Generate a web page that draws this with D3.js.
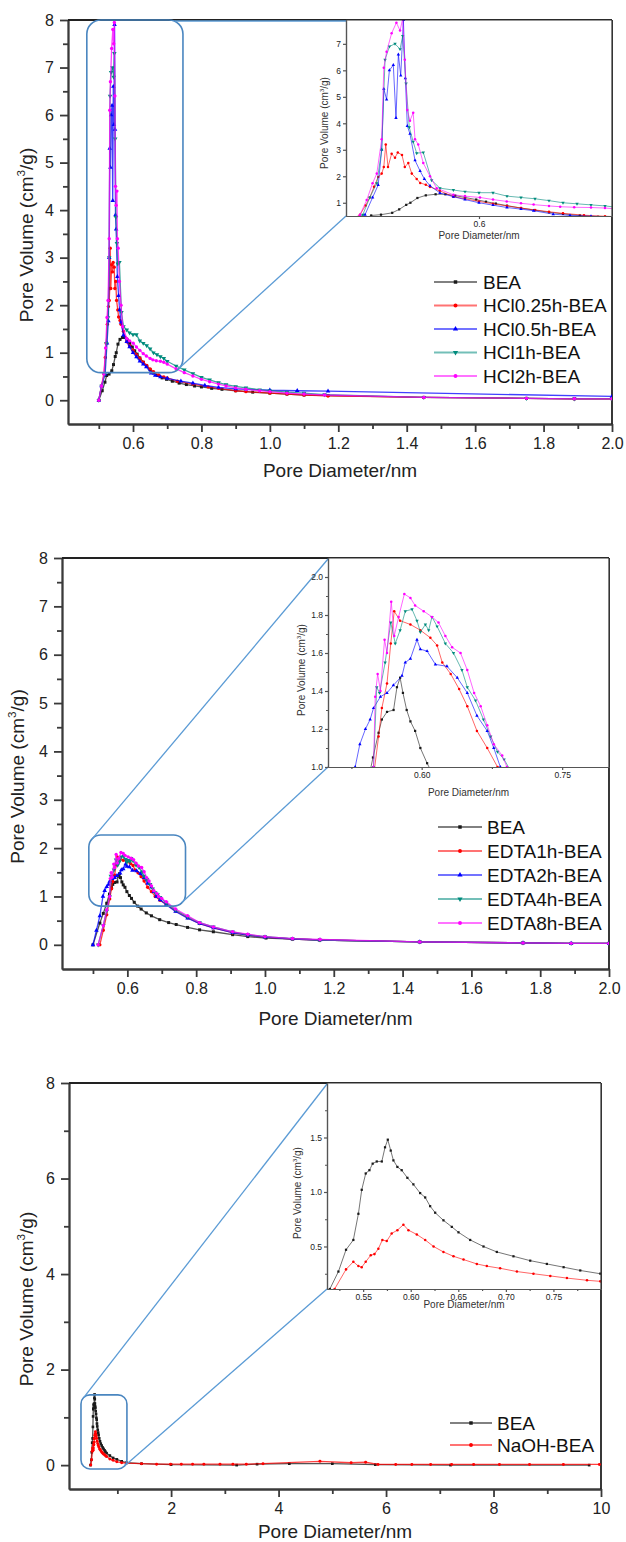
<!DOCTYPE html>
<html>
<head>
<meta charset="utf-8">
<script src="https://cdn.jsdelivr.net/npm/d3@7"></script>
<style>
body { margin: 0; background: #fff; }
</style>
</head>
<body>
<div id="chart"></div>
<script>

// ---------- data: HCl treated samples (x = pore diameter nm, y = pore volume) ----------
var hclNames = ['BEA', 'HCl0.25h-BEA', 'HCl0.5h-BEA', 'HCl1h-BEA', 'HCl2h-BEA'];

var hclBEA = [[0.500,0.00],[0.510,0.20],[0.518,0.38],[0.523,0.52],[0.530,0.55],[0.538,0.62],[0.543,0.75],
    [0.548,0.92],[0.551,1.00],[0.556,1.18],[0.562,1.28],[0.569,1.32],[0.576,1.32],[0.583,1.27],[0.590,1.20],
    [0.598,1.12],[0.605,1.04],[0.612,0.97],[0.620,0.89],[0.630,0.80],[0.640,0.72],[0.650,0.64],[0.660,0.58],
    [0.672,0.52],[0.685,0.47],[0.698,0.44],[0.715,0.40],[0.735,0.36],[0.756,0.33],[0.780,0.30],[0.800,0.28],
    [0.830,0.25],[0.860,0.23],[0.900,0.20],[0.950,0.17],[1.000,0.15],[1.050,0.13],[1.100,0.11],[1.170,0.10],
    [1.450,0.06],[1.750,0.04],[1.890,0.03],[2.000,0.03]];

var hcl025 = [[0.500,0.00],[0.508,0.30],[0.515,0.55],[0.519,0.90],[0.522,1.20],[0.525,1.60],[0.528,1.97],
    [0.5305,2.10],[0.532,2.35],[0.5334,3.20],[0.535,2.35],[0.5376,2.85],[0.540,2.70],[0.542,2.90],[0.545,2.80],
    [0.547,2.35],[0.5495,2.50],[0.552,2.10],[0.5555,1.90],[0.558,1.75],[0.562,1.68],[0.565,1.60],[0.572,1.45],
    [0.5817,1.23],[0.590,1.15],[0.600,1.05],[0.610,0.96],[0.620,0.88],[0.630,0.80],[0.640,0.73],[0.650,0.66],
    [0.660,0.60],[0.675,0.53],[0.690,0.49],[0.700,0.47],[0.730,0.40],[0.775,0.34],[0.820,0.28],[0.850,0.25],
    [0.900,0.20],[0.930,0.18],[1.000,0.15],[1.050,0.13],[1.100,0.11],[1.170,0.09],[1.450,0.06],[1.750,0.04],
    [1.890,0.03],[2.000,0.03]];

var hcl05 = [[0.500,0.00],[0.508,0.30],[0.5186,0.55],[0.524,1.20],[0.528,1.67],[0.5305,3.00],[0.532,5.30],
    [0.534,4.90],[0.536,6.00],[0.5388,6.20],[0.5407,4.20],[0.5424,6.60],[0.5441,5.80],[0.546,7.90],[0.5474,5.70],
    [0.5488,3.90],[0.5507,3.60],[0.5543,2.60],[0.5579,2.20],[0.561,1.90],[0.565,1.64],[0.5721,1.37],[0.5817,1.23],
    [0.590,1.12],[0.600,1.00],[0.610,0.91],[0.620,0.82],[0.630,0.76],[0.639,0.70],[0.653,0.57],[0.665,0.52],
    [0.680,0.49],[0.700,0.46],[0.740,0.40],[0.775,0.36],[0.810,0.31],[0.850,0.27],[0.900,0.24],[0.930,0.23],
    [1.000,0.21],[1.080,0.20],[1.170,0.19],[2.000,0.08]];

var hcl1 = [[0.500,0.00],[0.508,0.30],[0.517,0.55],[0.522,1.20],[0.527,1.74],[0.5305,3.00],[0.5329,6.40],
    [0.536,6.90],[0.540,7.00],[0.5436,6.80],[0.5455,7.30],[0.5479,5.50],[0.5502,3.85],[0.553,3.30],[0.5555,2.87],
    [0.5602,2.90],[0.5662,1.85],[0.5721,1.55],[0.5817,1.48],[0.590,1.42],[0.600,1.38],[0.610,1.38],[0.620,1.25],
    [0.630,1.20],[0.640,1.15],[0.650,1.08],[0.660,1.00],[0.670,0.96],[0.680,0.92],[0.690,0.88],[0.700,0.82],
    [0.726,0.72],[0.750,0.64],[0.775,0.56],[0.800,0.48],[0.824,0.43],[0.850,0.37],[0.872,0.33],[0.900,0.29],
    [0.930,0.26],[0.970,0.22],[1.000,0.20],[1.050,0.17],[1.100,0.15],[1.160,0.12],[1.450,0.06],[1.750,0.04],
    [1.890,0.03],[2.000,0.03]];

var hcl2 = [[0.500,0.00],[0.508,0.30],[0.515,0.55],[0.5198,1.10],[0.524,1.74],[0.527,2.10],[0.5305,3.40],
    [0.532,6.10],[0.534,6.70],[0.5376,7.40],[0.541,7.80],[0.5436,7.50],[0.5455,7.95],[0.547,6.40],[0.5488,4.50],
    [0.5507,4.10],[0.553,4.40],[0.5543,3.40],[0.5566,3.20],[0.5602,2.50],[0.565,2.00],[0.5698,1.55],[0.5817,1.30],
    [0.590,1.25],[0.6007,1.20],[0.610,1.12],[0.6198,1.05],[0.630,0.98],[0.639,0.93],[0.650,0.88],[0.658,0.85],
    [0.668,0.83],[0.680,0.82],[0.690,0.80],[0.700,0.76],[0.726,0.66],[0.750,0.58],[0.775,0.51],[0.800,0.44],
    [0.824,0.39],[0.850,0.34],[0.872,0.30],[0.900,0.26],[0.930,0.23],[0.970,0.20],[1.000,0.18],[1.050,0.15],
    [1.100,0.13],[1.160,0.11],[1.450,0.06],[1.750,0.04],[1.890,0.03],[2.000,0.03]];

// ---------- data: EDTA treated samples ----------
var edtaNames = ['BEA', 'EDTA1h-BEA', 'EDTA2h-BEA', 'EDTA4h-BEA', 'EDTA8h-BEA'];

var edtaBEA = [[0.500,0.00],[0.520,0.45],[0.530,0.65],[0.540,0.86],[0.548,1.05],[0.554,1.18],[0.5575,1.25],
    [0.563,1.29],[0.570,1.30],[0.5736,1.42],[0.577,1.47],[0.580,1.39],[0.584,1.30],[0.588,1.24],[0.593,1.19],
    [0.5986,1.10],[0.6058,1.02],[0.612,0.96],[0.620,0.88],[0.630,0.80],[0.640,0.74],[0.655,0.66],[0.670,0.60],
    [0.694,0.52],[0.720,0.46],[0.742,0.42],[0.775,0.36],[0.810,0.31],[0.850,0.27],[0.906,0.21],[0.950,0.17],
    [1.003,0.14],[1.080,0.12],[1.158,0.10],[1.450,0.06],[1.750,0.04],[1.890,0.03],[2.000,0.03]];

var edta1 = [[0.520,0.00],[0.530,0.30],[0.540,0.62],[0.5486,0.95],[0.554,1.16],[0.5575,1.31],[0.563,1.44],
    [0.567,1.65],[0.5707,1.82],[0.577,1.77],[0.588,1.75],[0.5986,1.72],[0.6093,1.68],[0.6165,1.64],[0.622,1.55],
    [0.631,1.49],[0.640,1.41],[0.6487,1.32],[0.659,1.19],[0.670,1.10],[0.681,1.00],[0.695,0.92],[0.713,0.84],
    [0.740,0.70],[0.775,0.56],[0.810,0.44],[0.850,0.35],[0.906,0.25],[0.950,0.20],[1.000,0.16],[1.080,0.12],
    [1.160,0.10],[1.450,0.06],[1.750,0.04],[1.890,0.03],[2.000,0.03]];

var edta2 = [[0.500,0.00],[0.510,0.30],[0.520,0.60],[0.529,1.00],[0.534,1.12],[0.540,1.20],[0.545,1.25],
    [0.5486,1.31],[0.556,1.37],[0.563,1.39],[0.5698,1.43],[0.579,1.48],[0.5825,1.55],[0.588,1.57],[0.595,1.67],
    [0.5986,1.62],[0.6058,1.61],[0.6147,1.54],[0.627,1.53],[0.638,1.47],[0.6487,1.39],[0.659,1.27],[0.670,1.19],
    [0.677,1.10],[0.684,1.00],[0.695,0.93],[0.713,0.83],[0.740,0.69],[0.775,0.55],[0.810,0.44],[0.850,0.35],
    [0.906,0.25],[0.950,0.20],[1.000,0.16],[1.080,0.12],[1.160,0.10],[1.450,0.06],[1.750,0.04],[1.890,0.03],
    [2.000,0.03]];

var edta4 = [[0.515,0.00],[0.530,0.40],[0.540,0.70],[0.5486,1.00],[0.552,1.42],[0.555,1.39],[0.561,1.55],
    [0.567,1.76],[0.5718,1.65],[0.577,1.72],[0.5825,1.82],[0.5897,1.83],[0.595,1.77],[0.5986,1.71],[0.604,1.75],
    [0.6075,1.72],[0.611,1.79],[0.6165,1.74],[0.6253,1.65],[0.634,1.60],[0.643,1.51],[0.6487,1.42],[0.6575,1.35],
    [0.666,1.25],[0.6737,1.16],[0.681,1.08],[0.688,1.04],[0.695,0.98],[0.713,0.87],[0.740,0.72],[0.775,0.58],
    [0.810,0.46],[0.850,0.37],[0.906,0.27],[0.950,0.21],[1.000,0.17],[1.080,0.13],[1.160,0.10],[1.450,0.06],
    [1.750,0.04],[1.890,0.03],[2.000,0.03]];

var edta8 = [[0.515,0.00],[0.530,0.40],[0.540,0.72],[0.5486,1.00],[0.5504,1.37],[0.553,1.49],[0.556,1.40],
    [0.5604,1.67],[0.563,1.60],[0.5675,1.87],[0.5707,1.69],[0.5754,1.79],[0.5815,1.91],[0.588,1.89],[0.593,1.85],
    [0.6022,1.82],[0.611,1.79],[0.618,1.76],[0.6253,1.69],[0.6325,1.63],[0.6415,1.60],[0.6487,1.51],[0.656,1.39],
    [0.663,1.32],[0.670,1.22],[0.677,1.12],[0.686,1.06],[0.691,1.00],[0.700,0.96],[0.713,0.89],[0.740,0.74],
    [0.775,0.60],[0.810,0.46],[0.850,0.37],[0.906,0.27],[0.950,0.22],[1.000,0.17],[1.080,0.13],[1.160,0.11],
    [1.450,0.06],[1.750,0.04],[1.890,0.03],[2.000,0.03]];

// ---------- data: NaOH treated sample ----------
var naohNames = ['BEA', 'NaOH-BEA'];

var naohBEA = [[0.500,0.00],[0.515,0.11],[0.524,0.27],[0.532,0.47],[0.5397,0.56],[0.545,0.80],[0.5485,1.02],
    [0.5527,1.17],[0.5566,1.20],[0.560,1.26],[0.5643,1.28],[0.5696,1.28],[0.573,1.41],[0.5759,1.48],[0.579,1.38],
    [0.5818,1.29],[0.586,1.23],[0.5905,1.20],[0.5965,1.13],[0.6028,1.07],[0.6099,0.99],[0.6152,0.95],[0.6204,0.87],
    [0.6257,0.81],[0.6344,0.74],[0.6432,0.68],[0.6502,0.63],[0.6625,0.56],[0.6765,0.50],[0.6905,0.45],[0.708,0.41],
    [0.7256,0.37],[0.7431,0.34],[0.7607,0.31],[0.7782,0.28],[0.7993,0.25],[0.860,0.20],[0.920,0.15],[0.990,0.12],
    [1.080,0.08],[1.170,0.05],[1.450,0.03],[2.000,0.01],[3.220,0.00],[3.600,0.02],[4.200,0.03],[5.000,0.03],
    [5.800,0.01],[7.200,0.00],[9.780,0.00]];

var naoh = [[0.505,0.00],[0.520,0.11],[0.532,0.29],[0.5397,0.36],[0.545,0.32],[0.5485,0.31],[0.5527,0.36],
    [0.558,0.42],[0.5619,0.43],[0.566,0.48],[0.5702,0.56],[0.5748,0.55],[0.580,0.62],[0.586,0.65],[0.5923,0.70],
    [0.5976,0.65],[0.6064,0.61],[0.6152,0.56],[0.624,0.50],[0.6344,0.45],[0.645,0.41],[0.6555,0.38],[0.6695,0.34],
    [0.680,0.32],[0.694,0.30],[0.7116,0.27],[0.729,0.25],[0.7467,0.23],[0.7642,0.21],[0.7853,0.19],[0.7993,0.18],
    [0.860,0.13],[0.920,0.10],[0.990,0.07],[1.080,0.05],[1.170,0.04],[1.450,0.03],[1.730,0.02],[1.990,0.02],
    [2.190,0.02],[2.400,0.02],[2.610,0.02],[2.910,0.02],[3.150,0.02],[3.400,0.02],[3.710,0.03],[4.770,0.08],
    [5.350,0.05],[5.620,0.06],[5.850,0.015],[6.180,0.015],[6.480,0.015],[6.830,0.015],[7.220,0.015],
    [7.630,0.015],[8.110,0.015],[8.670,0.015],[9.300,0.015],[9.970,0.015]];

// ---------- tick values ----------
var volTicks = [0, 1, 2, 3, 4, 5, 6, 7, 8];
var volMinor = [0.5, 1.5, 2.5, 3.5, 4.5, 5.5, 6.5, 7.5];
var diamTicks = [0.6, 0.8, 1.0, 1.2, 1.4, 1.6, 1.8, 2.0];
var diamMinor = [0.5, 0.7, 0.9, 1.1, 1.3, 1.5, 1.7, 1.9];
var naohVolTicks = [0, 2, 4, 6, 8];
var naohVolMinor = [1, 3, 5, 7];
var naohDiamTicks = [2, 4, 6, 8, 10];
var naohDiamMinor = [1, 3, 5, 7, 9];

var inset1YTicks = [1, 2, 3, 4, 5, 6, 7];
var inset1XTicks = [0.6];
var inset2YTicks = [1.0, 1.2, 1.4, 1.6, 1.8, 2.0];
var inset2YMinor = [1.1, 1.3, 1.5, 1.7, 1.9];
var inset2XTicks = [0.60, 0.75];
var inset2XMinor = [0.525, 0.675];
var inset3YTicks = [0.5, 1.0, 1.5];
var inset3YMinor = [0.25, 0.75, 1.25, 1.75];
var inset3XTicks = [0.55, 0.60, 0.65, 0.70, 0.75];
var inset3XMinor = [0.525, 0.575, 0.625, 0.675, 0.725, 0.775];

// ---------- drawing ----------
var FONT = 'Arial, "Liberation Sans", sans-serif';
var ZOOM_BLUE = '#5b9bd5';
var colors = ['#1a1a1a', '#ff0000', '#0000ff', '#008b7d', '#ff00ff'];
var shapes = [d3.symbolSquare, d3.symbolCircle, d3.symbolTriangle, d3.symbolTriangle, d3.symbolCircle];
var flips = [false, false, false, true, false];

var svg = d3.select('#chart').append('svg')
    .attr('width', 626)
    .attr('height', 1542)
    .style('background', '#fff');

function makeSeries(names, arrays) {
    return names.map(function (n, i) {
        return {name: n, data: arrays[i], color: colors[i], shape: shapes[i], flip: flips[i]};
    });
}

/* Pore Volume (cm3/g) with superscript 3 */
function volumeLabel(t, size) {
    t.append('tspan').text('Pore Volume (cm');
    t.append('tspan').attr('font-size', size * 0.62).attr('dy', -size * 0.42).text('3');
    t.append('tspan').attr('dy', size * 0.42).text('/g)');
}

/* Left/bottom axes plus top/right frame lines */
function axesBox(g, x, y, o) {
    var xr = x.range(), yr = y.range();
    var noLabel = function () { return ''; };

    g.append('g').attr('transform', 'translate(0,' + yr[0] + ')')
        .call(d3.axisBottom(x).tickValues(o.xTicks).tickFormat(o.xFmt)
            .tickSize(o.tick).tickSizeOuter(0).tickPadding(o.pad));
    g.append('g').attr('transform', 'translate(0,' + yr[0] + ')')
        .call(d3.axisBottom(x).tickValues(o.xMinor).tickFormat(noLabel)
            .tickSize(o.minor).tickSizeOuter(0));
    g.append('g').attr('transform', 'translate(' + xr[0] + ',0)')
        .call(d3.axisLeft(y).tickValues(o.yTicks).tickFormat(o.yFmt)
            .tickSize(o.tick).tickSizeOuter(0).tickPadding(o.pad));
    g.append('g').attr('transform', 'translate(' + xr[0] + ',0)')
        .call(d3.axisLeft(y).tickValues(o.yMinor).tickFormat(noLabel)
            .tickSize(o.minor).tickSizeOuter(0));

    g.append('line')
        .attr('x1', xr[0]).attr('x2', xr[1])
        .attr('y1', yr[1]).attr('y2', yr[1])
        .attr('stroke', o.frame).attr('stroke-width', o.width);
    g.append('line')
        .attr('x1', xr[1]).attr('x2', xr[1])
        .attr('y1', yr[1]).attr('y2', yr[0])
        .attr('stroke', o.frame).attr('stroke-width', o.width);

    g.selectAll('.domain, .tick line')
        .attr('stroke', o.stroke).attr('stroke-width', o.width);
    g.selectAll('.tick text')
        .attr('font-family', FONT).attr('font-size', o.fontSize).attr('fill', '#222');
}

function drawSeries(g, x, y, series, o) {
    var line = d3.line()
        .x(d => x(d[0]))
        .y(d => y(d[1]));

    series.forEach(function (s) {
        g.append('path')
            .datum(s.data)
            .attr('fill', 'none')
            .attr('stroke', s.color)
            .attr('stroke-opacity', o.lineOpacity)
            .attr('stroke-width', o.lineWidth)
            .attr('stroke-linejoin', 'round')
            .attr('d', line);

        g.selectAll(null)
            .data(s.data).enter()
            .append('path')
                .attr('d', d3.symbol().type(s.shape).size(o.markerSize))
                .attr('transform', d => 'translate(' + x(d[0]) + ',' + y(d[1]) + ')' +
                    (s.flip ? ' rotate(180)' : ''))
                .attr('fill', s.color);
    });
}

function drawPanel(p) {
    var x = d3.scaleLinear().domain(p.xDomain).range([p.x0, p.x1]);
    var y = d3.scaleLinear().domain(p.yDomain).range([p.y1, p.y0]);
    var g = svg.append('g').attr('class', 'panel-' + p.id);

    svg.append('clipPath').attr('id', 'clip-main-' + p.id)
        .append('rect')
        .attr('x', p.x0).attr('y', p.y0 - 2)
        .attr('width', p.x1 - p.x0).attr('height', p.y1 - p.y0 + 2);

    axesBox(g, x, y, {
        xTicks: p.xTicks, xMinor: p.xMinor, yTicks: p.yTicks, yMinor: p.yMinor,
        xFmt: p.xFmt, yFmt: d3.format('d'),
        tick: 8, minor: 5, pad: 6, fontSize: 16,
        stroke: '#3a3a3a', frame: '#222', width: 1.8
    });

    // axis titles
    g.append('text')
        .attr('x', (p.x0 + p.x1) / 2).attr('y', p.xTitleY)
        .attr('text-anchor', 'middle')
        .attr('font-family', FONT).attr('font-size', 19).attr('fill', '#222')
        .text('Pore Diameter/nm');
    var yt = g.append('text')
        .attr('transform', 'translate(' + p.yTitleX + ',' + ((p.y0 + p.y1) / 2 + 13) + ') rotate(-90)')
        .attr('text-anchor', 'middle')
        .attr('font-family', FONT).attr('font-size', 19).attr('fill', '#222');
    volumeLabel(yt, 19);

    var series = makeSeries(p.names, p.data);
    drawSeries(g.append('g').attr('clip-path', 'url(#clip-main-' + p.id + ')'), x, y, series,
        {lineOpacity: 0.75, lineWidth: 1.3, markerSize: p.markerSize});

    // zoom box and connector lines
    var bx0 = x(p.box.xd[0]), bx1 = x(p.box.xd[1]);
    var by0 = y(p.box.yd[1]), by1 = y(p.box.yd[0]);
    g.append('rect')
        .attr('x', bx0).attr('y', by0)
        .attr('width', bx1 - bx0).attr('height', by1 - by0)
        .attr('rx', p.box.r).attr('ry', p.box.r)
        .attr('fill', 'none').attr('stroke', '#4a86c0').attr('stroke-width', 1.6);

    var ins = p.inset;
    var anchors = {
        tr: [bx1 - p.box.r * 0.6, by0 + 1],
        tl: [bx0 + p.box.r * 0.3, by0 + p.box.r * 0.3],
        br: [bx1 - p.box.r * 0.3, by1 - p.box.r * 0.3]
    };
    p.connect.forEach(function (c, i) {
        var a = anchors[c];
        g.append('line')
            .attr('x1', a[0]).attr('y1', a[1])
            .attr('x2', ins.x0).attr('y2', i === 0 ? ins.y0 + 1 : ins.y1)
            .attr('stroke', ZOOM_BLUE).attr('stroke-width', 1.3);
    });

    // inset
    var ix = d3.scaleLinear().domain(ins.xDomain).range([ins.x0, ins.x1]);
    var iy = d3.scaleLinear().domain(ins.yDomain).range([ins.y1, ins.y0]);
    var ig = g.append('g');
    ig.append('rect')
        .attr('x', ins.x0).attr('y', ins.y0)
        .attr('width', ins.x1 - ins.x0).attr('height', ins.y1 - ins.y0)
        .attr('fill', '#fff');
    svg.append('clipPath').attr('id', 'clip-inset-' + p.id)
        .append('rect')
        .attr('x', ins.x0).attr('y', ins.y0)
        .attr('width', ins.x1 - ins.x0).attr('height', ins.y1 - ins.y0);

    drawSeries(ig.append('g').attr('clip-path', 'url(#clip-inset-' + p.id + ')'), ix, iy, series,
        {lineOpacity: 0.6, lineWidth: 1, markerSize: 5});

    axesBox(ig, ix, iy, {
        xTicks: ins.xTicks, xMinor: ins.xMinor, yTicks: ins.yTicks, yMinor: ins.yMinor,
        xFmt: ins.xFmt, yFmt: ins.yFmt,
        tick: 3, minor: 2, pad: 2, fontSize: 8.5,
        stroke: '#555', frame: '#333', width: 1.2
    });
    ig.append('text')
        .attr('x', (ins.x0 + ins.x1) / 2).attr('y', ins.y1 + ins.xTitleDy)
        .attr('text-anchor', 'middle')
        .attr('font-family', FONT).attr('font-size', 10).attr('fill', '#333')
        .text('Pore Diameter/nm');
    var iyt = ig.append('text')
        .attr('transform', 'translate(' + ins.yTitleX + ',' + ins.yTitleY + ') rotate(-90)')
        .attr('text-anchor', 'middle')
        .attr('font-family', FONT).attr('font-size', 10).attr('fill', '#333');
    volumeLabel(iyt, 10);

    // legend
    var lg = g.append('g');
    series.forEach(function (s, i) {
        var ly = p.legend.y + i * p.legend.dy;
        lg.append('line')
            .attr('x1', p.legend.x0).attr('x2', p.legend.x1)
            .attr('y1', ly).attr('y2', ly)
            .attr('stroke', s.color).attr('stroke-opacity', 0.55).attr('stroke-width', 2.2);
        lg.append('path')
            .attr('d', d3.symbol().type(s.shape).size(12))
            .attr('transform', 'translate(' + (p.legend.x0 + p.legend.x1) / 2 + ',' + ly + ')' +
                (s.flip ? ' rotate(180)' : ''))
            .attr('fill', s.color);
        lg.append('text')
            .attr('x', p.legend.tx).attr('y', ly).attr('dy', '0.36em')
            .attr('font-family', FONT).attr('font-size', 19).attr('fill', '#111')
            .text(s.name);
    });
}

drawPanel({
    id: 1, x0: 68, x1: 612, y0: 20, y1: 424,
    xDomain: [0.41, 2.0], yDomain: [-0.5, 8],
    xTicks: diamTicks, xMinor: diamMinor, yTicks: volTicks, yMinor: volMinor,
    xFmt: d3.format('.1f'), xTitleY: 477, yTitleX: 33,
    names: hclNames, data: [hclBEA, hcl025, hcl05, hcl1, hcl2], markerSize: 9,
    box: {xd: [0.465, 0.746], yd: [0.58, 8.0], r: 14},
    connect: ['tr', 'br'],
    inset: {
        x0: 346, x1: 612, y0: 20, y1: 216,
        xDomain: [0.505, 0.695], yDomain: [0.5, 7.9],
        xTicks: inset1XTicks, xMinor: [], yTicks: inset1YTicks, yMinor: [],
        xFmt: d3.format('.1f'), yFmt: d3.format('d'),
        xTitleDy: 23, yTitleX: 328, yTitleY: 123
    },
    legend: {x0: 434, x1: 477, tx: 483, y: 282, dy: 23.5}
});

drawPanel({
    id: 2, x0: 62, x1: 609, y0: 558, y1: 969,
    xDomain: [0.41, 2.0], yDomain: [-0.5, 8],
    xTicks: diamTicks, xMinor: diamMinor, yTicks: volTicks, yMinor: volMinor,
    xFmt: d3.format('.1f'), xTitleY: 1025, yTitleX: 24,
    names: edtaNames, data: [edtaBEA, edta1, edta2, edta4, edta8], markerSize: 9,
    box: {xd: [0.488, 0.769], yd: [0.8, 2.27], r: 12},
    connect: ['tl', 'br'],
    inset: {
        x0: 328, x1: 609, y0: 558, y1: 767,
        xDomain: [0.5, 0.8], yDomain: [1.0, 2.1],
        xTicks: inset2XTicks, xMinor: inset2XMinor, yTicks: inset2YTicks, yMinor: inset2YMinor,
        xFmt: d3.format('.2f'), yFmt: d3.format('.1f'),
        xTitleDy: 29, yTitleX: 305, yTitleY: 670
    },
    legend: {x0: 438, x1: 482, tx: 487, y: 827, dy: 24}
});

drawPanel({
    id: 3, x0: 69, x1: 601, y0: 1083, y1: 1489,
    xDomain: [0.1, 10], yDomain: [-0.5, 8],
    xTicks: naohDiamTicks, xMinor: naohDiamMinor, yTicks: naohVolTicks, yMinor: naohVolMinor,
    xFmt: d3.format('d'), xTitleY: 1538, yTitleX: 33,
    names: naohNames, data: [naohBEA, naoh], markerSize: 7,
    box: {xd: [0.323, 1.178], yd: [-0.08, 1.47], r: 9},
    connect: ['tl', 'br'],
    inset: {
        x0: 327, x1: 601, y0: 1083, y1: 1289,
        xDomain: [0.512, 0.80], yDomain: [0.11, 2.0],
        xTicks: inset3XTicks, xMinor: inset3XMinor, yTicks: inset3YTicks, yMinor: inset3YMinor,
        xFmt: d3.format('.2f'), yFmt: d3.format('.1f'),
        xTitleDy: 19, yTitleX: 301, yTitleY: 1193
    },
    legend: {x0: 450, x1: 492, tx: 497, y: 1423, dy: 22}
});

</script>
</body>
</html>
